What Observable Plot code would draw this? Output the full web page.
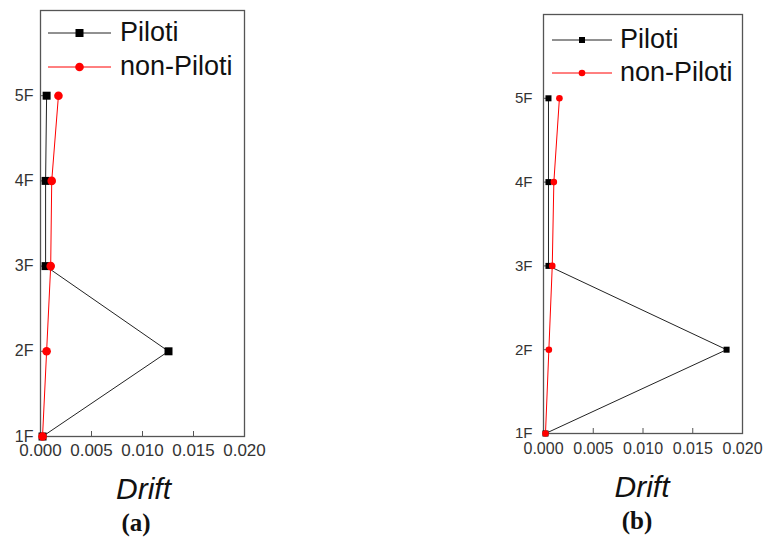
<!DOCTYPE html>
<html>
<head>
<meta charset="utf-8">
<script src="https://cdn.jsdelivr.net/npm/d3@7"></script>
<script src="https://cdn.jsdelivr.net/npm/@observablehq/plot@0.6"></script>
<style>
  html, body { margin: 0; padding: 0; background: #fff; }
  #wrap { position: relative; width: 767px; height: 537px; overflow: hidden; font-family: "Liberation Sans", Arial, sans-serif; }
  .abs { position: absolute; }
  .drift { font-style: italic; font-size: 30px; color: #111; transform: translateX(-50%); line-height: 1; }
  .cap { font-family: "Liberation Serif", "Times New Roman", serif; font-weight: bold; font-size: 25px; color: #111; transform: translateX(-50%); line-height: 1; }
  .leg { font-size: 27px; color: #111; line-height: 1; }
</style>
</head>
<body>
<div id="wrap"></div>
<script>
// ---- data ----
const floors = [1, 2, 3, 4, 5];
const floorLabels = ["1F", "2F", "3F", "4F", "5F"];
const xTicks = [0, 0.005, 0.010, 0.015, 0.020];
const xTickLabels = ["0.000", "0.005", "0.010", "0.015", "0.020"];
const seriesNames = ["Piloti", "non-Piloti"];
const pilotiA = [0.0002, 0.01255, 0.0005, 0.0005, 0.0006];
const nonPilotiA = [0.0002, 0.0006, 0.0010, 0.0011, 0.00176];
const pilotiB = [0.0002, 0.0184, 0.0005, 0.0005, 0.0005];
const nonPilotiB = [0.0002, 0.00054, 0.00088, 0.00104, 0.0016];
const panelLabels = ["(a)", "(b)"];

const wrap = document.getElementById("wrap");

function table(vals) { return floors.map((f, i) => ({floor: f, drift: vals[i]})); }

function makePanel(cfg) {
  const P = table(cfg.piloti), N = table(cfg.non);
  const chart = Plot.plot({
    width: cfg.width, height: cfg.height,
    marginLeft: cfg.ml, marginRight: cfg.mr, marginTop: cfg.mt, marginBottom: cfg.mb,
    style: {fontFamily: "'Liberation Sans', Arial, sans-serif", background: "transparent", color: "#333"},
    x: {domain: [0, 0.02]},
    y: {domain: [1, 6]},
    marks: [
      Plot.axisX({ticks: xTicks, tickFormat: (d, i) => xTickLabels[xTicks.indexOf(d)], tickSize: -5, tickPadding: cfg.xpad, fontSize: cfg.xfs, stroke: "#555", fill: "#333", label: null}),
      Plot.axisY({ticks: floors, tickFormat: d => floorLabels[floors.indexOf(d)], tickSize: -5, tickPadding: cfg.ypad, fontSize: cfg.yfs, stroke: "#555", fill: "#333", label: null}),
      Plot.frame({stroke: "#555", strokeWidth: 1.3}),
      Plot.line(P, {x: "drift", y: "floor", stroke: "#222", strokeWidth: 1}),
      Plot.dot(P, {x: "drift", y: "floor", symbol: "square", r: cfg.sq, fill: "#000", stroke: "none"}),
      Plot.line(N, {x: "drift", y: "floor", stroke: "#ff0000", strokeWidth: 1}),
      Plot.dot(N, {x: "drift", y: "floor", symbol: "circle", r: cfg.cr, fill: "#ff0000", stroke: "none"})
    ]
  });
  chart.style.position = "absolute";
  chart.style.left = cfg.left + "px";
  chart.style.top = "0px";
  wrap.appendChild(chart);

  // legend
  const colors = ["#222", "#ff0000"];
  const fills = ["#000", "#ff0000"];
  cfg.legY.forEach((ly, i) => {
    const ns = "http://www.w3.org/2000/svg";
    const svg = document.createElementNS(ns, "svg");
    const w = cfg.legX2 - cfg.legX1;
    svg.setAttribute("width", w + 10);
    svg.setAttribute("height", 20);
    svg.style.position = "absolute";
    svg.style.left = (cfg.legX1 - 5) + "px";
    svg.style.top = (ly - 10) + "px";
    const ln = document.createElementNS(ns, "line");
    ln.setAttribute("x1", 5); ln.setAttribute("x2", w + 5);
    ln.setAttribute("y1", 10); ln.setAttribute("y2", 10);
    ln.setAttribute("stroke", colors[i]); ln.setAttribute("stroke-width", 1);
    svg.appendChild(ln);
    const m = (w + 10) / 2;
    if (i === 0) {
      const s = document.createElementNS(ns, "rect");
      s.setAttribute("x", m - cfg.legSq / 2); s.setAttribute("y", 10 - cfg.legSq / 2);
      s.setAttribute("width", cfg.legSq); s.setAttribute("height", cfg.legSq);
      s.setAttribute("fill", fills[i]);
      svg.appendChild(s);
    } else {
      const c = document.createElementNS(ns, "circle");
      c.setAttribute("cx", m); c.setAttribute("cy", 10); c.setAttribute("r", cfg.legCr);
      c.setAttribute("fill", fills[i]);
      svg.appendChild(c);
    }
    wrap.appendChild(svg);
    const t = document.createElement("div");
    t.className = "abs leg";
    t.textContent = seriesNames[i];
    t.style.left = cfg.legTx + "px";
    t.style.top = (ly - 14) + "px";
    wrap.appendChild(t);
  });

  const d = document.createElement("div");
  d.className = "abs drift";
  d.textContent = "Drift";
  d.style.left = cfg.driftX + "px";
  d.style.top = cfg.driftY + "px";
  wrap.appendChild(d);

  const c = document.createElement("div");
  c.className = "abs cap";
  c.textContent = cfg.cap;
  c.style.left = cfg.capX + "px";
  c.style.top = cfg.capY + "px";
  wrap.appendChild(c);
}

makePanel({
  piloti: pilotiA, non: nonPilotiA,
  left: 0, width: 280, height: 470, ml: 40, mr: 36, mt: 10, mb: 34,
  xpad: 12, ypad: 12, xfs: 17, yfs: 16, sq: 4.5, cr: 4.3,
  legX1: 48, legX2: 111, legY: [33, 67], legTx: 120, legSq: 8, legCr: 4.3,
  driftX: 143.5, driftY: 474, cap: panelLabels[0], capX: 136, capY: 510
});
makePanel({
  piloti: pilotiB, non: nonPilotiB,
  left: 480, width: 287, height: 470, ml: 63, mr: 25, mt: 14, mb: 37,
  xpad: 14, ypad: 16, xfs: 16, yfs: 15, sq: 3.4, cr: 3.3,
  legX1: 552, legX2: 612, legY: [40, 73], legTx: 620, legSq: 6, legCr: 3.3,
  driftX: 642, driftY: 472, cap: panelLabels[1], capX: 637, capY: 508
});
</script>
</body>
</html>
